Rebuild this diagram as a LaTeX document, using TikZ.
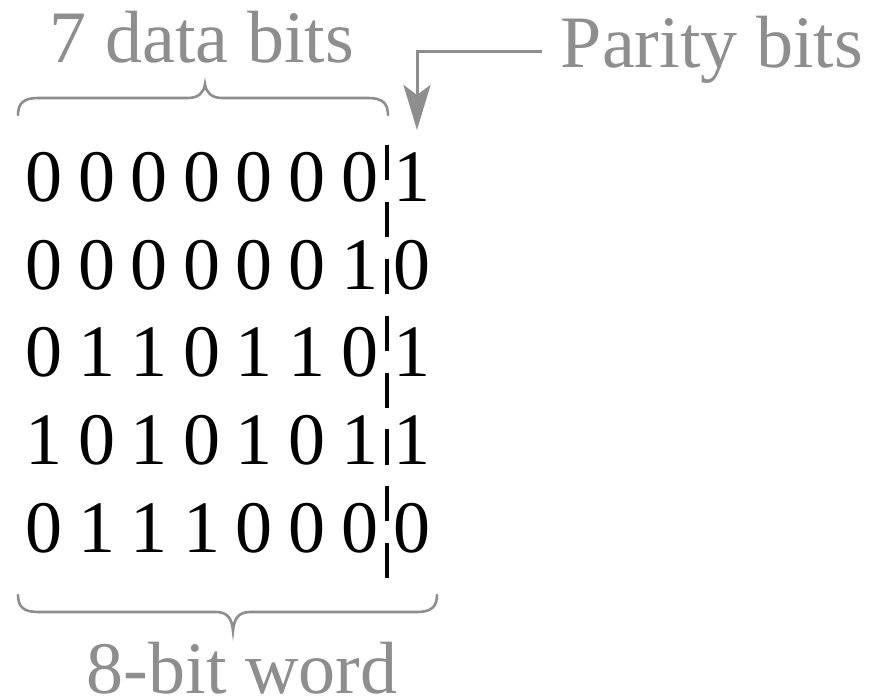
\documentclass[tikz,border=0pt]{standalone}
\usepackage{fontspec}
\setmainfont{Liberation Serif}
\usetikzlibrary{arrows.meta}
\definecolor{lbl}{RGB}{142,142,142}
\tikzset{
  bigtxt/.style={inner sep=0pt, anchor=base, font=\fontsize{74}{74}\selectfont},
  graytxt/.style={bigtxt, text=lbl},
  bitdigit/.style={bigtxt, text=black},
  bracestyle/.style={draw=lbl, line width=2.6pt, line cap=round},
  sepline/.style={draw=black, line width=3.6pt, dash pattern=on 35pt off 21.9pt},
  pointer/.style={draw=lbl, line width=3pt, -{Stealth[length=45pt,width=27pt,inset=10pt]}}
}
\begin{document}
\begin{tikzpicture}[x=1pt,y=-1pt]
\useasboundingbox (0,0) rectangle (873,700);

% labels
\node[graytxt] (data) at (202,63) {7 data bits};
\node[graytxt] (par) at (712,68) {Parity bits};
\node[graytxt, text depth=0pt] (word) at (242,693) {8-bit word};

% bit rows
\foreach \bits [count=\r] in {{0,0,0,0,0,0,0,1},{0,0,0,0,0,0,1,0},{0,1,1,0,1,1,0,1},{1,0,1,0,1,0,1,1},{0,1,1,1,0,0,0,0}}{
  \foreach \b [count=\c] in \bits {
    \node[bitdigit] (d-\r-\c) at ({44+52.6*(\c-1)},{202+87.5*(\r-1)}) {\b};
  }
}

% separator
\coordinate (septop) at (387,145);
\coordinate (sepbot) at (387,578);
\draw[sepline] (septop) -- (sepbot);

% top brace
\draw[bracestyle] (18,115) .. controls (18,103) and (24,98) .. (38,98) -- (188,98)
  .. controls (199,98) and (204,92) .. (205,84)
  .. controls (206,92) and (211,98) .. (222,98) -- (368,98)
  .. controls (382,98) and (388,103) .. (388,115);

% bottom brace
\draw[bracestyle] (18,595) .. controls (18,607) and (24,612) .. (38,612) -- (216,612)
  .. controls (227,612) and (232,618) .. (233,631)
  .. controls (234,618) and (239,612) .. (250,612) -- (417,612)
  .. controls (431,612) and (437,607) .. (437,595);

% pointer to parity bits
\coordinate (pstart) at (542,52);
\coordinate (ptip) at (417,130);
\draw[pointer] (pstart) -| (ptip);
\end{tikzpicture}
\end{document}
